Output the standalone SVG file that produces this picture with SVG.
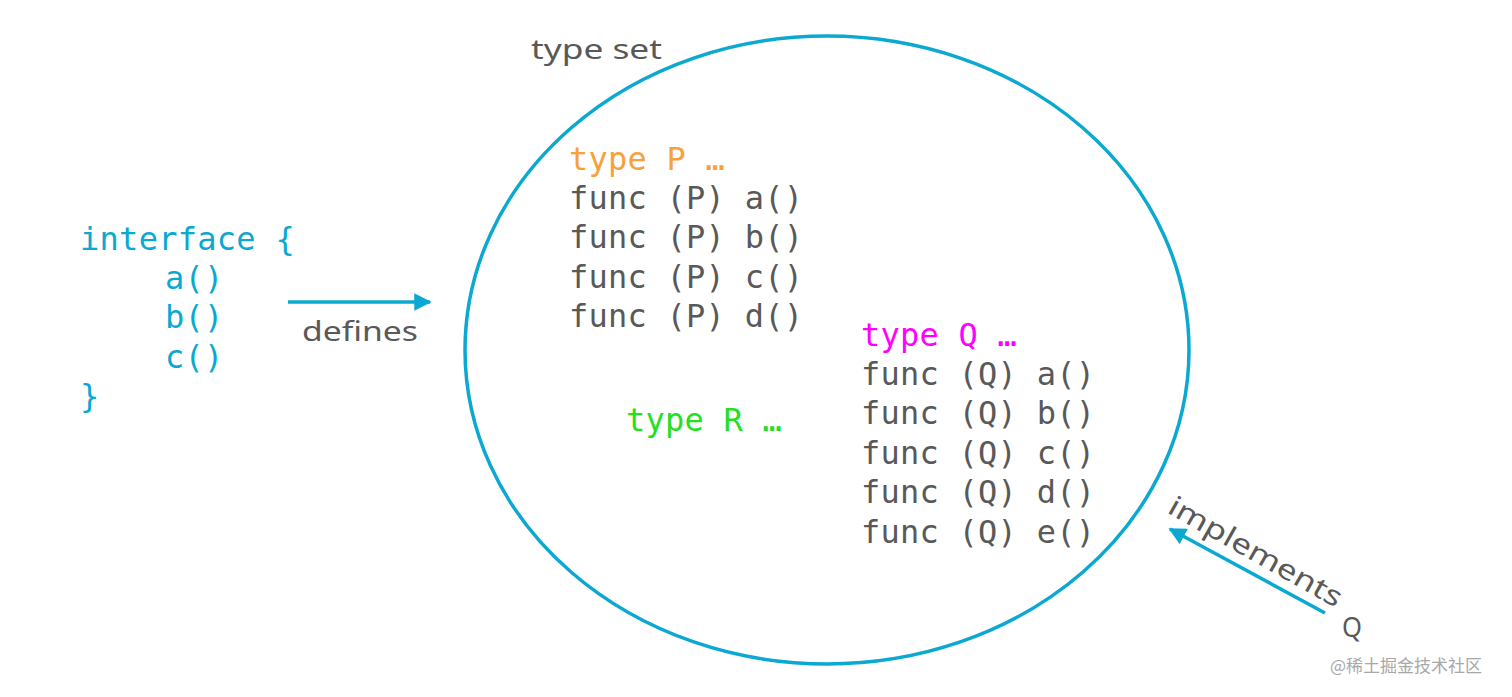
<svg xmlns="http://www.w3.org/2000/svg" width="1512" height="697" viewBox="0 0 1512 697">
<style>
.mono{font-family:"DejaVu Sans Mono","Liberation Mono",monospace;font-size:32px;letter-spacing:0.25px;}
.sans{font-family:"Noto Sans","Open Sans",sans-serif;font-size:28px;fill:#595959;}
.blue{fill:#0ba8d2;}
.gray{fill:#595959;}
.link{stroke:#0ba8d2;stroke-width:3.5;fill:none;}
</style>
<defs>
<marker id="ah" viewBox="0 0 10 10" refX="9" refY="5" markerWidth="5" markerHeight="5" orient="auto" markerUnits="strokeWidth">
<path d="M0,0 L10,5 L0,10 z" fill="#0ba8d2"/>
</marker>
</defs>
<rect width="1512" height="697" fill="#ffffff"/>
<g id="typeset">
<ellipse cx="827" cy="350" rx="362" ry="314" fill="none" stroke="#0ba8d2" stroke-width="3.5"/>
<text class="sans" x="531" y="59" textLength="131" lengthAdjust="spacingAndGlyphs">type set</text>
</g>
<g id="interface">
<text class="mono blue" x="80" y="250" textLength="215" lengthAdjust="spacingAndGlyphs">interface {</text>
<text class="mono blue" x="165" y="289">a()</text>
<text class="mono blue" x="165" y="328">b()</text>
<text class="mono blue" x="165" y="368">c()</text>
<text class="mono blue" x="80" y="407">}</text>
</g>
<g id="typeP">
<text class="mono" x="569" y="170" fill="#f7a13a">type P …</text>
<text class="mono gray" x="569" y="209">func (P) a()</text>
<text class="mono gray" x="569" y="248">func (P) b()</text>
<text class="mono gray" x="569" y="288">func (P) c()</text>
<text class="mono gray" x="569" y="327">func (P) d()</text>
</g>
<g id="typeQ">
<text class="mono" x="861" y="346" fill="#ff00ff">type Q …</text>
<text class="mono gray" x="861" y="385">func (Q) a()</text>
<text class="mono gray" x="861" y="424">func (Q) b()</text>
<text class="mono gray" x="861" y="464">func (Q) c()</text>
<text class="mono gray" x="861" y="503">func (Q) d()</text>
<text class="mono gray" x="861" y="543">func (Q) e()</text>
</g>
<g id="typeR">
<text class="mono" x="626" y="431" fill="#22e022">type R …</text>
</g>
<g id="Q">
<text class="sans" x="1342" y="637" textLength="20" lengthAdjust="spacingAndGlyphs">Q</text>
</g>
<g id="connectors">
<line class="link" x1="288" y1="302" x2="430" y2="302" marker-end="url(#ah)"/>
<text class="sans" x="302" y="341" textLength="116" lengthAdjust="spacingAndGlyphs">defines</text>
<line class="link" x1="1325" y1="613" x2="1170" y2="529" marker-end="url(#ah)"/>
<text class="sans" transform="translate(1166,512) rotate(29.5)" textLength="195" lengthAdjust="spacingAndGlyphs">implements</text>
</g>
<text x="1330" y="672" font-family="'Noto Sans CJK SC','Noto Sans',sans-serif" font-size="17" fill="#a8a8a8">@稀土掘金技术社区</text>
</svg>
